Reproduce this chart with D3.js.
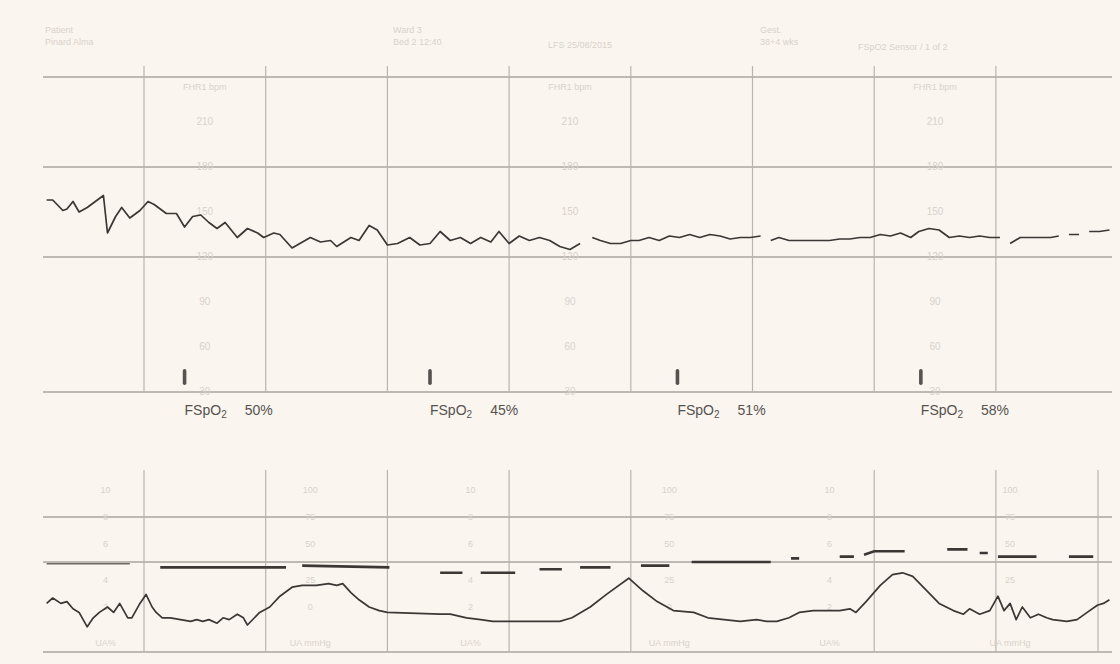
<!DOCTYPE html>
<html lang="en">
<head>
    <meta charset="UTF-8">
    <title>CTG FSpO2</title>
    <script src="https://cdn.jsdelivr.net/npm/d3@7"></script>
    <style>
        body { margin: 0; background: #fbf5f0; }
        svg { display: block; font-family: "Liberation Sans", Arial, sans-serif; }
        .grid-h { stroke: #a9a5a1; stroke-width: 1.6; }
        .grid-v { stroke: #b9b4af; stroke-width: 1.2; }
        .faint { fill: #d9d2cb; font-size: 9px; }
        .trace { fill: none; stroke: #3a3734; stroke-width: 1.7; stroke-linejoin: round; }
        .trace2 { fill: none; stroke: #3a3734; stroke-width: 2.6; }
        .spo2 { fill: #55524f; font-size: 14px; }
    </style>
</head>
<body>
<script>
    // fetal heart rate trace: [seconds, bpm], null = signal loss
    var fhr = [
        [12,158],[15,158],[20,151],[22,152],[25,157],[28,150],[32,153],[37,158],[40,161],[42,136],
        [46,147],[49,153],[53,146],[58,151],[62,157],[65,155],[71,149],[76,149],[80,140],[84,147],
        [88,148],[92,143],[96,139],[100,143],[106,133],[111,139],[116,136],[119,133],[124,136],[127,135],
        [133,126],[142,133],[147,130],[152,131],[155,127],[162,133],[166,131],[171,141],[175,138],[180,128],
        [185,129],[191,133],[196,128],[201,129],[206,137],[211,131],[216,133],[221,129],[226,133],[231,130],
        [235,137],[240,129],[245,134],[250,131],[255,133],[260,131],[265,127],[270,125],[275,129],[278,null],
        [281,133],[285,131],[290,129],[295,129],[300,131],[304,131],[309,133],[314,131],[319,134],[324,133],
        [329,135],[334,133],[339,135],[344,134],[349,132],[354,133],[359,133],[364,134],[366,null],[369,131],
        [373,133],[378,131],[383,131],[388,131],[393,131],[398,131],[403,132],[408,132],[413,133],[418,133],
        [423,135],[428,134],[433,136],[438,133],[442,137],[447,139],[452,138],[457,133],[462,134],[467,133],
        [472,134],[477,133],[482,133],[485,null],[487,129],[492,133],[497,133],[502,133],[507,133],[511,134],
        [514,null],[516,135],[521,135],[524,null],[526,137],[531,137],[536,138]
    ];

    // uterine activity trace: [seconds, value]
    var ua = [
        [12,27],[15,30],[19,27],[22,28],[25,24],[28,22],[32,14],[35,19],[38,22],[42,25],
        [45,22],[48,27],[52,19],[54,19],[58,27],[61,32],[64,25],[66,22],[69,19],[73,19],
        [78,18],[83,17],[86,18],[89,17],[92,18],[96,16],[99,19],[102,18],[106,21],[109,19],
        [111,15],[117,22],[122,25],[127,31],[133,36],[138,37],[145,37],[151,38],[155,37],[158,38],
        [162,33],[166,29],[171,25],[176,23],[180,22],[206,21],[211,21],[219,19],[226,18],[232,17],
        [247,17],[255,17],[265,17],[271,19],[280,25],[288,32],[299,41],[306,34],[313,28],[321,23],
        [331,22],[338,19],[346,18],[354,17],[362,18],[367,17],[372,17],[378,19],[383,22],[390,23],
        [403,23],[408,24],[411,22],[416,28],[423,37],[429,43],[434,44],[439,42],[446,34],[452,27],
        [459,23],[464,21],[467,24],[472,21],[477,23],[481,31],[484,23],[487,27],[490,18],[493,25],
        [497,19],[501,21],[505,19],[508,18],[515,17],[520,18],[525,22],[530,26],[533,27],[536,29]
    ];

    // second lower channel: [seconds, value], null = gap
    var ua2a = [[12,49],[53,49]];
    var ua2 = [
        [68,47],[130,47],[134,null],[138,48],[181,47],[183,null],
        [206,44],[217,44],[221,null],[226,44],[243,44],[247,null],[255,46],[266,46],[270,null],
        [275,47],[290,47],[294,null],[305,48],[319,48],[323,null],[330,50],[369,50],[373,null],
        [379,52],[383,52],[387,null],[403,53],[410,53],[412,null],[415,54],[420,56],[435,56],[438,null],
        [456,57],[466,57],[470,null],[472,55],[476,55],[480,null],[481,53],[500,53],[505,null],
        [516,53],[528,53]
    ];

    // FSpO2 readings: [seconds, percent]
    var spo2 = [[80,50],[201,45],[323,51],[443,58]];

    var fhrTicks = [210,180,150,120,90,60,30];
    var fhrLines = [240,180,120,30];
    var uaLines = [75,50,0];
    var uaTicksL = ["10","8","6","4","2"];
    var uaTicksR = ["100","75","50","25","0"];
    var minutes = [60,120,180,240,300,360,420,480];
    var uaMinutes = [60,120,180,240,300,420,480];

    var svg = d3.select("body").append("svg").attr("width", 1120).attr("height", 664);

    var x = d3.scaleLinear().domain([0, 540]).range([22.3, 1117.6]);
    var yF = d3.scaleLinear().domain([30, 240]).range([392, 77]);
    var yU = d3.scaleLinear().domain([0, 100]).range([652, 472]);
    var left = 43, right = 1112;

    // header texts
    var head = [[45,33,"Patient"],[45,45,"Pinard Alma"],[393,33,"Ward 3"],[393,45,"Bed 2 12:40"],
                [548,48,"LFS 25/08/2015"],[760,33,"Gest."],[760,45,"38+4 wks"],[858,50,"FSpO2 Sensor / 1 of 2"]];
    svg.selectAll(".head").data(head).enter().append("text")
        .attr("class", "faint").attr("x", d => d[0]).attr("y", d => d[1]).text(d => d[2]);

    // top panel grid
    svg.selectAll(".fl").data(fhrLines).enter().append("line").attr("class", "grid-h")
        .attr("x1", left).attr("x2", right).attr("y1", d => yF(d)).attr("y2", d => yF(d));
    svg.selectAll(".fv").data(minutes).enter().append("line").attr("class", "grid-v")
        .attr("x1", d => x(d)).attr("x2", d => x(d)).attr("y1", 66).attr("y2", yF(30));

    // bottom panel grid
    svg.selectAll(".ul").data(uaLines).enter().append("line").attr("class", "grid-h")
        .attr("x1", left).attr("x2", right).attr("y1", d => yU(d)).attr("y2", d => yU(d));
    svg.selectAll(".uv").data(uaMinutes).enter().append("line").attr("class", "grid-v")
        .attr("x1", d => x(d)).attr("x2", d => x(d)).attr("y1", 470).attr("y2", yU(0));
    svg.append("line").attr("class", "grid-v")
        .attr("x1", 1098).attr("x2", 1098).attr("y1", 470).attr("y2", yU(0));

    // FHR scale labels in three columns
    var fhrCols = [90, 270, 450];
    fhrCols.forEach(function (c) {
        svg.append("text").attr("class", "faint").attr("x", x(c)).attr("y", 90)
            .attr("text-anchor", "middle").text("FHR1 bpm");
        svg.selectAll(null).data(fhrTicks).enter().append("text")
            .attr("class", "faint").attr("text-anchor", "middle")
            .attr("x", x(c)).attr("y", d => yF(d) + 3).style("font-size", "10px").text(d => d);
    });

    // UA scale labels
    [[41,uaTicksL,"UA%"],[142,uaTicksR,"UA mmHg"],[221,uaTicksL,"UA%"],
     [319,uaTicksR,"UA mmHg"],[398,uaTicksL,"UA%"],[487,uaTicksR,"UA mmHg"]].forEach(function (c) {
        var vals = [90, 75, 60, 40, 25];
        svg.selectAll(null).data(c[1]).enter().append("text")
            .attr("class", "faint").attr("text-anchor", "middle")
            .attr("x", x(c[0])).attr("y", (d, i) => yU(vals[i]) + 3).text(d => d);
        svg.append("text").attr("class", "faint").attr("text-anchor", "middle")
            .attr("x", x(c[0])).attr("y", 646).text(c[2]);
    });

    var line = d3.line().defined(d => d[1] !== null).x(d => x(d[0]));

    svg.append("path").attr("class", "trace")
        .attr("d", line.y(d => yF(d[1]))(fhr));
    svg.append("path").attr("class", "trace").style("stroke", "#6d6965").style("stroke-width", 1.4)
        .attr("d", line.y(d => yU(d[1]))(ua2a));
    svg.append("path").attr("class", "trace2")
        .attr("d", line.y(d => yU(d[1]))(ua2));
    svg.append("path").attr("class", "trace")
        .attr("d", line.y(d => yU(d[1]))(ua));

    // FSpO2 markers and values
    svg.selectAll(".mk").data(spo2).enter().append("rect")
        .attr("x", d => x(d[0]) - 1.8).attr("y", 369).attr("width", 3.6).attr("height", 16)
        .attr("rx", 1.8).attr("fill", "#55524f");
    var lab = svg.selectAll(".lab").data(spo2).enter().append("text")
        .attr("class", "spo2").attr("x", d => x(d[0])).attr("y", 415);
    lab.append("tspan").text("FSpO");
    lab.append("tspan").attr("dy", 3).style("font-size", "10px").text("2");
    lab.append("tspan").attr("dy", -3).attr("dx", 18).text(d => d[1] + "%");
</script>
</body>
</html>
